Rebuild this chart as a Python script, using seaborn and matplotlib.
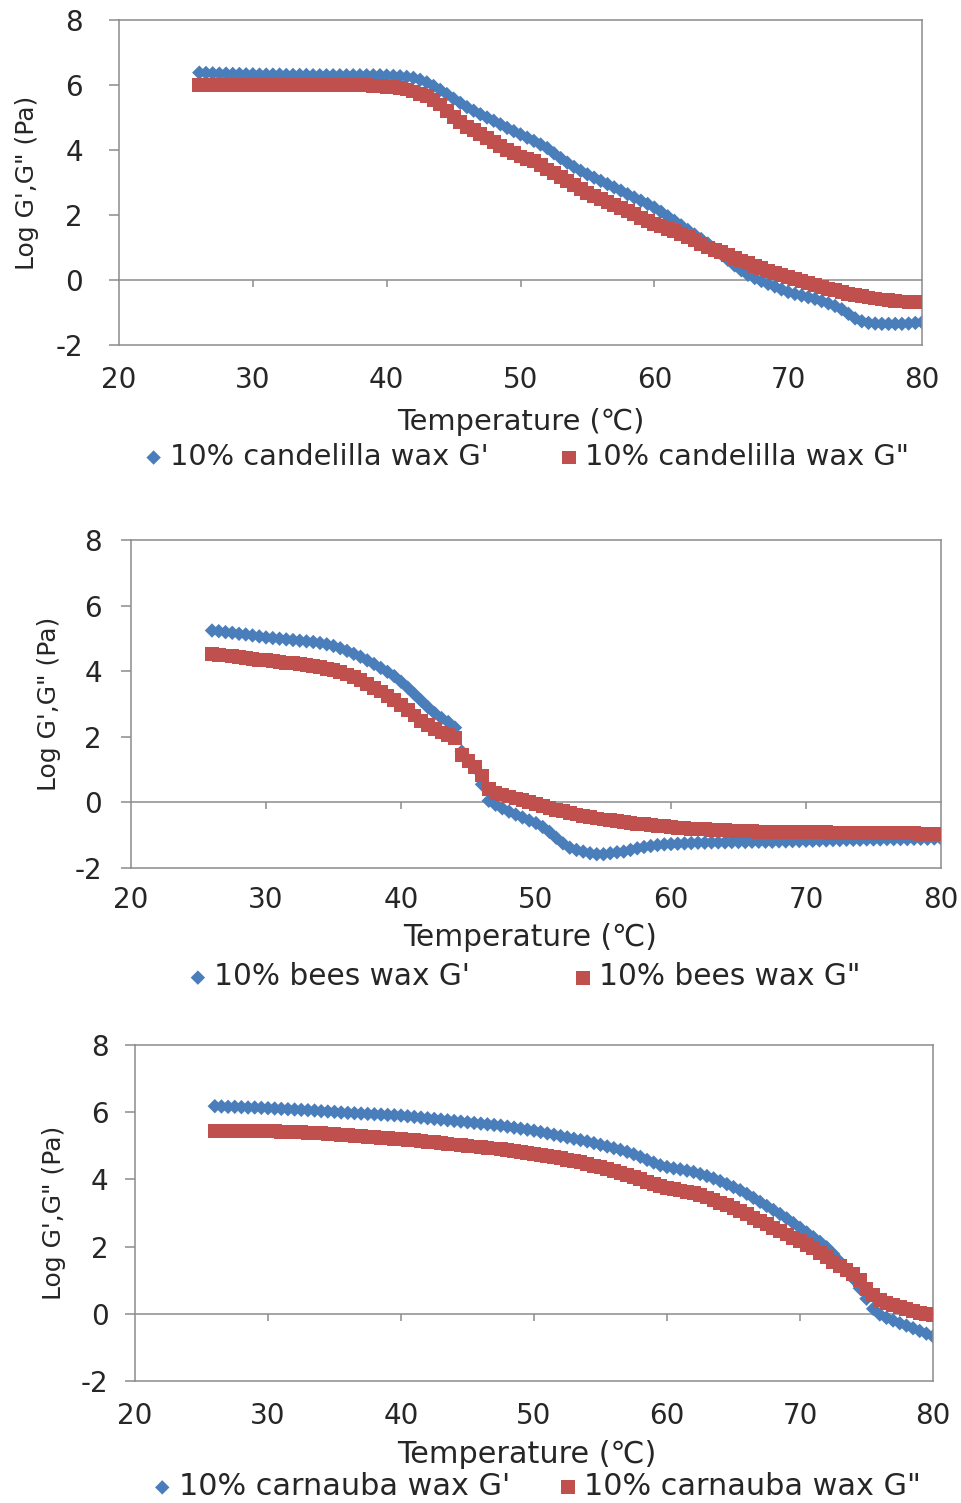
import matplotlib
matplotlib.use("Agg")
import matplotlib.pyplot as plt
import pandas as pd
import seaborn as sns

sns.set_style("white")
plt.rcParams["font.family"] = ["DejaVu Sans"]
plt.rcParams["axes.unicode_minus"] = False

# Temperature sweep (deg C), one reading every half degree
TEMP = [26.0, 26.5, 27.0, 27.5, 28.0, 28.5, 29.0, 29.5, 30.0, 30.5,
        31.0, 31.5, 32.0, 32.5, 33.0, 33.5, 34.0, 34.5, 35.0, 35.5,
        36.0, 36.5, 37.0, 37.5, 38.0, 38.5, 39.0, 39.5, 40.0, 40.5,
        41.0, 41.5, 42.0, 42.5, 43.0, 43.5, 44.0, 44.5, 45.0, 45.5,
        46.0, 46.5, 47.0, 47.5, 48.0, 48.5, 49.0, 49.5, 50.0, 50.5,
        51.0, 51.5, 52.0, 52.5, 53.0, 53.5, 54.0, 54.5, 55.0, 55.5,
        56.0, 56.5, 57.0, 57.5, 58.0, 58.5, 59.0, 59.5, 60.0, 60.5,
        61.0, 61.5, 62.0, 62.5, 63.0, 63.5, 64.0, 64.5, 65.0, 65.5,
        66.0, 66.5, 67.0, 67.5, 68.0, 68.5, 69.0, 69.5, 70.0, 70.5,
        71.0, 71.5, 72.0, 72.5, 73.0, 73.5, 74.0, 74.5, 75.0, 75.5,
        76.0, 76.5, 77.0, 77.5, 78.0, 78.5, 79.0, 79.5, 80.0]

# 10% candelilla wax, log G' and log G''
CANDELILLA_GP = [6.38, 6.37, 6.36, 6.35, 6.35, 6.34, 6.34, 6.33, 6.33, 6.32,
                 6.32, 6.32, 6.32, 6.31, 6.31, 6.31, 6.31, 6.30, 6.30, 6.30,
                 6.30, 6.30, 6.30, 6.30, 6.30, 6.30, 6.30, 6.30, 6.29, 6.28,
                 6.27, 6.25, 6.22, 6.16, 6.08, 5.97, 5.85, 5.72, 5.58, 5.45,
                 5.32, 5.21, 5.10, 5.00, 4.90, 4.79, 4.68, 4.58, 4.48, 4.38,
                 4.28, 4.17, 4.06, 3.90, 3.75, 3.61, 3.48, 3.36, 3.25, 3.15,
                 3.05, 2.95, 2.85, 2.75, 2.64, 2.54, 2.44, 2.34, 2.23, 2.10,
                 1.96, 1.82, 1.68, 1.54, 1.40, 1.26, 1.12, 0.96, 0.80, 0.62,
                 0.45, 0.30, 0.16, 0.06, -0.03, -0.12, -0.20, -0.29, -0.37, -0.43,
                 -0.48, -0.53, -0.58, -0.65, -0.72, -0.80, -0.90, -1.04, -1.18, -1.27,
                 -1.32, -1.34, -1.35, -1.35, -1.35, -1.35, -1.34, -1.32, -1.30]
CANDELILLA_GPP = [6.00, 6.00, 6.00, 6.00, 6.00, 6.00, 6.00, 6.00, 6.00, 6.00,
                  6.00, 6.00, 6.00, 6.00, 6.00, 6.00, 6.00, 6.00, 6.00, 6.00,
                  6.00, 6.00, 6.00, 6.00, 6.00, 5.99, 5.98, 5.97, 5.95, 5.93,
                  5.90, 5.86, 5.80, 5.73, 5.65, 5.54, 5.40, 5.21, 5.02, 4.86,
                  4.72, 4.61, 4.50, 4.38, 4.25, 4.12, 4.00, 3.90, 3.80, 3.73,
                  3.65, 3.53, 3.40, 3.28, 3.17, 3.05, 2.92, 2.80, 2.68, 2.58,
                  2.48, 2.39, 2.30, 2.21, 2.12, 2.02, 1.92, 1.82, 1.72, 1.65,
                  1.58, 1.50, 1.42, 1.32, 1.22, 1.11, 1.00, 0.92, 0.85, 0.76,
                  0.68, 0.60, 0.52, 0.44, 0.37, 0.29, 0.22, 0.15, 0.08, 0.02,
                  -0.04, -0.10, -0.16, -0.22, -0.27, -0.32, -0.37, -0.42, -0.46, -0.50,
                  -0.54, -0.57, -0.60, -0.62, -0.64, -0.66, -0.67, -0.67, -0.67]

# 10% bees wax
BEES_GP = [5.24, 5.22, 5.19, 5.17, 5.14, 5.12, 5.09, 5.06, 5.03, 5.01,
           4.99, 4.97, 4.95, 4.93, 4.91, 4.89, 4.86, 4.82, 4.77, 4.70,
           4.62, 4.53, 4.44, 4.33, 4.22, 4.10, 3.98, 3.85, 3.68, 3.50,
           3.30, 3.10, 2.90, 2.72, 2.57, 2.45, 2.28, 1.55, 1.25, 1.05,
           0.55, 0.05, -0.07, -0.18, -0.28, -0.37, -0.46, -0.55, -0.63, -0.75,
           -0.90, -1.08, -1.25, -1.38, -1.45, -1.50, -1.55, -1.58, -1.58, -1.55,
           -1.52, -1.50, -1.45, -1.40, -1.36, -1.33, -1.30, -1.28, -1.27, -1.26,
           -1.25, -1.24, -1.23, -1.23, -1.22, -1.22, -1.22, -1.21, -1.21, -1.21,
           -1.20, -1.20, -1.20, -1.20, -1.19, -1.19, -1.18, -1.18, -1.17, -1.17,
           -1.16, -1.16, -1.15, -1.15, -1.14, -1.14, -1.14, -1.13, -1.13, -1.13,
           -1.12, -1.12, -1.12, -1.12, -1.11, -1.11, -1.11, -1.10, -1.10]
BEES_GPP = [4.52, 4.50, 4.48, 4.46, 4.43, 4.41, 4.38, 4.35, 4.33, 4.30,
            4.28, 4.26, 4.24, 4.22, 4.19, 4.16, 4.12, 4.08, 4.03, 3.97,
            3.90, 3.82, 3.73, 3.62, 3.50, 3.38, 3.25, 3.12, 2.98, 2.82,
            2.65, 2.48, 2.35, 2.23, 2.13, 2.05, 1.95, 1.45, 1.25, 1.08,
            0.82, 0.42, 0.30, 0.24, 0.18, 0.12, 0.06, 0.00, -0.06, -0.11,
            -0.17, -0.22, -0.27, -0.32, -0.37, -0.41, -0.45, -0.49, -0.52, -0.55,
            -0.58, -0.61, -0.63, -0.65, -0.67, -0.69, -0.71, -0.73, -0.75, -0.77,
            -0.78, -0.80, -0.81, -0.82, -0.83, -0.84, -0.85, -0.86, -0.87, -0.88,
            -0.88, -0.89, -0.89, -0.90, -0.90, -0.90, -0.90, -0.91, -0.91, -0.91,
            -0.91, -0.91, -0.92, -0.92, -0.92, -0.92, -0.92, -0.93, -0.93, -0.93,
            -0.93, -0.94, -0.94, -0.94, -0.94, -0.95, -0.95, -0.95, -0.95]

# 10% carnauba wax
CARNAUBA_GP = [6.18, 6.17, 6.16, 6.16, 6.15, 6.14, 6.14, 6.13, 6.12, 6.11,
               6.10, 6.09, 6.08, 6.07, 6.06, 6.05, 6.03, 6.02, 6.01, 5.99,
               5.98, 5.97, 5.96, 5.95, 5.94, 5.93, 5.92, 5.91, 5.90, 5.88,
               5.86, 5.84, 5.82, 5.80, 5.78, 5.76, 5.74, 5.72, 5.70, 5.68,
               5.66, 5.64, 5.62, 5.60, 5.57, 5.54, 5.51, 5.48, 5.45, 5.41,
               5.37, 5.33, 5.29, 5.25, 5.21, 5.17, 5.13, 5.08, 5.03, 4.98,
               4.93, 4.88, 4.82, 4.75, 4.67, 4.58, 4.50, 4.42, 4.37, 4.33,
               4.30, 4.26, 4.22, 4.16, 4.10, 4.03, 3.95, 3.86, 3.77, 3.68,
               3.57, 3.45, 3.33, 3.21, 3.09, 2.97, 2.84, 2.70, 2.56, 2.42,
               2.28, 2.14, 1.98, 1.78, 1.55, 1.31, 1.05, 0.76, 0.45, 0.15,
               -0.02, -0.12, -0.20, -0.28, -0.35, -0.43, -0.51, -0.59, -0.67]
CARNAUBA_GPP = [5.45, 5.45, 5.45, 5.45, 5.45, 5.45, 5.45, 5.45, 5.44, 5.43,
                5.42, 5.41, 5.40, 5.40, 5.39, 5.38, 5.37, 5.36, 5.35, 5.33,
                5.32, 5.30, 5.29, 5.27, 5.26, 5.24, 5.23, 5.21, 5.20, 5.18,
                5.16, 5.14, 5.12, 5.10, 5.08, 5.06, 5.04, 5.02, 5.00, 4.98,
                4.96, 4.94, 4.92, 4.90, 4.88, 4.85, 4.82, 4.79, 4.76, 4.73,
                4.70, 4.67, 4.63, 4.59, 4.55, 4.51, 4.46, 4.41, 4.36, 4.31,
                4.26, 4.20, 4.14, 4.07, 4.00, 3.93, 3.86, 3.80, 3.75, 3.71,
                3.67, 3.63, 3.59, 3.53, 3.46, 3.39, 3.31, 3.23, 3.14, 3.05,
                2.96, 2.86, 2.76, 2.66, 2.56, 2.46, 2.36, 2.26, 2.16, 2.06,
                1.95, 1.82, 1.68, 1.54, 1.41, 1.30, 1.18, 1.00, 0.75, 0.55,
                0.42, 0.33, 0.25, 0.19, 0.13, 0.08, 0.03, -0.01, -0.05]

WAX_NAMES = ["candelilla wax", "bees wax", "carnauba wax"]
X_TICKS = [20, 30, 40, 50, 60, 70, 80]
Y_TICKS = [-2, 0, 2, 4, 6, 8]
X_LABEL = "Temperature (\u2103)"
Y_LABEL = "Log G',G\" (Pa)"

BLUE = "#4a7ebb"
RED = "#c0504d"
FRAME = "#8c8c8c"
INK = "#262626"
TICK_FS = 20

panels = [
    dict(name=WAX_NAMES[0], gp=CANDELILLA_GP, gpp=CANDELILLA_GPP,
         rect=[119 / 961, 1 - 345 / 1503, 803 / 961, 325 / 1503],
         ypad=19, xpad=15, xlab=(0.5, -0.237), ylab_x=-0.115,
         leg=(0.508, -0.345), colsp=2.5, fs=20.8),
    dict(name=WAX_NAMES[1], gp=BEES_GP, gpp=BEES_GPP,
         rect=[131 / 961, 1 - 868 / 1503, 810 / 961, 328 / 1503],
         ypad=14, xpad=13, xlab=(0.493, -0.213), ylab_x=-0.101,
         leg=(0.486, -0.332), colsp=3.5, fs=21.3),
    dict(name=WAX_NAMES[2], gp=CARNAUBA_GP, gpp=CARNAUBA_GPP,
         rect=[135 / 961, 1 - 1381 / 1503, 798 / 961, 336 / 1503],
         ypad=12, xpad=15, xlab=(0.491, -0.22), ylab_x=-0.101,
         leg=(0.504, -0.315), colsp=1.6, fs=21.8),
]

fig = plt.figure(figsize=(9.61, 15.03), dpi=100)

for p in panels:
    ax = fig.add_axes(p["rect"])
    df = pd.DataFrame({"T": TEMP, "Gp": p["gp"], "Gpp": p["gpp"]})
    sns.scatterplot(data=df, x="T", y="Gp", marker="D", s=54, color=BLUE,
                    edgecolor="none", linewidth=0, ax=ax,
                    label=f"10% {p['name']} G'", zorder=2)
    sns.scatterplot(data=df, x="T", y="Gpp", marker="s", s=100, color=RED,
                    edgecolor="none", linewidth=0, ax=ax,
                    label=f"10% {p['name']} G\"", zorder=3)

    ax.set_xlim(20, 80)
    ax.set_ylim(-2, 8)
    ax.set_xticks(X_TICKS)
    ax.set_yticks(Y_TICKS)
    for sp in ax.spines.values():
        sp.set_color(FRAME)
        sp.set_linewidth(1.1)
    ax.tick_params(axis="x", length=0, pad=p["xpad"], labelsize=TICK_FS, labelcolor=INK)
    ax.tick_params(axis="y", direction="out", length=7, width=1.1, color=FRAME,
                   pad=p["ypad"], labelsize=TICK_FS, labelcolor=INK, left=True)

    # horizontal axis crossing at zero with its own tick marks
    sec = ax.secondary_xaxis(0.2)
    sec.set_xticks(X_TICKS[1:-1])
    sec.tick_params(axis="x", direction="out", length=5, width=1.1, color=FRAME,
                    labelbottom=False, labeltop=False)
    for sp in sec.spines.values():
        sp.set_color(FRAME)
        sp.set_linewidth(1.1)

    ax.set_xlabel(X_LABEL, fontsize=p["fs"], color=INK)
    ax.xaxis.set_label_coords(*p["xlab"])
    ax.xaxis.label.set_va("center")
    ax.set_ylabel(Y_LABEL, fontsize=18, color=INK)
    ax.yaxis.set_label_coords(p["ylab_x"], 0.5)
    ax.yaxis.label.set_va("center")

    ax.legend(loc="center", bbox_to_anchor=p["leg"], ncol=2, frameon=False,
              fontsize=p["fs"], handlelength=0.6, handletextpad=0.25,
              columnspacing=p["colsp"], borderaxespad=0, labelcolor=INK)

fig.savefig("out.png", dpi=100, facecolor="white")
